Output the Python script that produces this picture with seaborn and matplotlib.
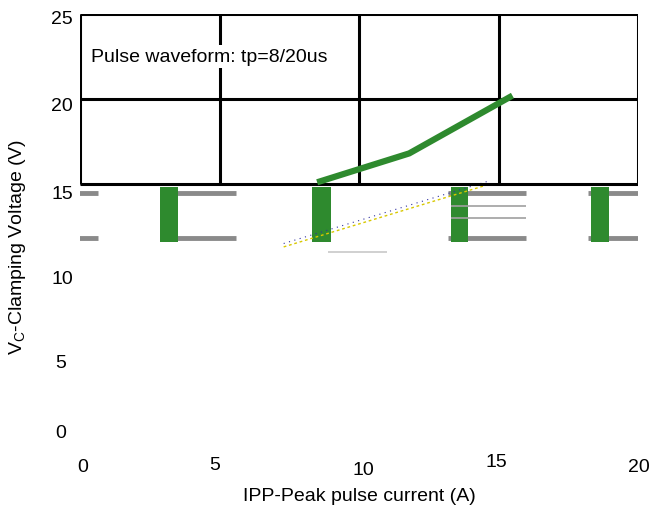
import matplotlib
matplotlib.use("Agg")
import matplotlib.pyplot as plt
import matplotlib.transforms as mtransforms
import seaborn as sns
import pandas as pd

# data
current = [8.5, 11.8, 15.5]
voltage = [15.1, 16.8, 20.2]
x_ticks = [0, 5, 10, 15, 20]
y_ticks = [0, 5, 10, 15, 20, 25]
title_text = "Pulse waveform: tp=8/20us"

sns.set_theme(style="white")
plt.rcParams['font.family'] = ['Liberation Sans', 'DejaVu Sans']
plt.rcParams['text.color'] = 'black'
plt.rcParams['axes.labelcolor'] = 'black'
plt.rcParams['xtick.color'] = 'black'
plt.rcParams['ytick.color'] = 'black'

fig = plt.figure(figsize=(6.52, 5.06), dpi=100)
ax = fig.add_axes([80/652, 66/506, 558/652, 425/506])
ax.set_xlim(0, 20)
ax.set_ylim(0, 25)
for s in ax.spines.values():
    s.set_visible(False)

# upper frame with grid (15..25)
lw = 2.2
ax.hlines([15, 20, 25], 0, 20, color="black", lw=lw, zorder=2)
ax.vlines([0, 5, 10, 15, 20], 15, 25, color="black", lw=lw, zorder=2)

# glitch artefacts below the frame
gray = "#8a8a8a"
for (a, b) in [(-0.2, 0.65), (2.86, 5.6), (13.2, 16.0), (18.2, 20.1)]:
    ax.hlines([14.5, 11.8], a, b, color=gray, lw=3.5, zorder=1)
green = "#2e8a2e"
for (a, b) in [(2.85, 3.5), (8.3, 9.0), (13.3, 13.9), (18.3, 18.95)]:
    ax.fill_between([a, b], 11.6, 14.8, color=green, lw=0, zorder=1)
ax.plot([7.3, 14.7], [11.3, 15.0], color="#d8c800", lw=1, ls=(0, (2, 2)), zorder=1)
ax.plot([7.3, 14.7], [11.5, 15.2], color="#3030a0", lw=0.8, ls=(0, (1, 4)), zorder=1)
ax.hlines([11.0], 8.9, 11.0, color="#c8c8c8", lw=1.2)
ax.hlines([13.7, 13.0], 13.3, 16.0, color="#a0a0a0", lw=1.2)

df = pd.DataFrame({"I": current, "V": voltage})
sns.lineplot(data=df, x="I", y="V", ax=ax, color=green, lw=4.5, zorder=3,
             solid_capstyle="butt")

ax.text(0.4, 22.5, title_text, fontsize=14, va="center", ha="left",
        bbox=dict(facecolor="white", edgecolor="none", pad=2), zorder=4)

ax.set_xticks(x_ticks)
ax.set_yticks(y_ticks)
ax.set_xticklabels([str(t) for t in x_ticks], fontsize=14)
ax.set_yticklabels([str(t) for t in y_ticks], fontsize=14)
ax.tick_params(axis="x", length=0, pad=14)
ax.tick_params(axis="y", length=0, pad=5)

# irregular label placement of the original (pixel offsets: dx, dy with up positive)
x_off = [(3, 0), (-5, 2), (4, -3), (-2, 5), (1, 0)]
y_off = [(-7, 8), (-7, -7), (0, -8), (0, -8), (0, -5), (0, -3)]
for lab, (dx, dy) in zip(ax.get_xticklabels(), x_off):
    lab.set_transform(lab.get_transform() + mtransforms.ScaledTranslation(dx/100, dy/100, fig.dpi_scale_trans))
for lab, (dx, dy) in zip(ax.get_yticklabels(), y_off):
    lab.set_transform(lab.get_transform() + mtransforms.ScaledTranslation(dx/100, dy/100, fig.dpi_scale_trans))

ax.set_xlabel("IPP-Peak pulse current (A)", fontsize=14, labelpad=6)
ax.set_ylabel(r"V$_\mathregular{C}$-Clamping Voltage (V)", fontsize=14)
ax.yaxis.set_label_coords(-0.094, 0.455)

fig.savefig("out.png", dpi=100)
